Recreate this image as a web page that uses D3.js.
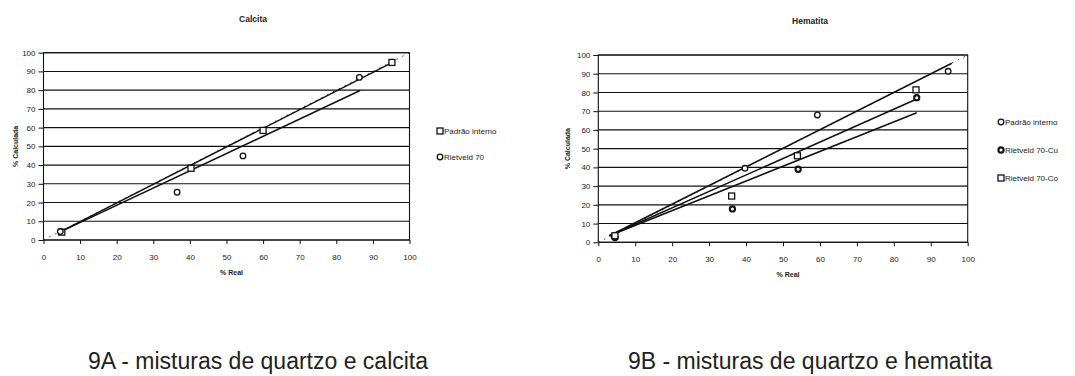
<!DOCTYPE html>
<html lang="pt">
<head>
<meta charset="UTF-8" />
<title>Calcita / Hematita</title>
<script src="https://cdn.jsdelivr.net/npm/d3@7"></script>
<style>
  body { margin: 0; background: #fff; }
  svg text { font-family: "Liberation Sans", Arial, sans-serif; fill: #222; }
</style>
</head>
<body>
<div id="app"></div>
<script>
// dados: [% real, % calculada]
const axisTicks = [0, 10, 20, 30, 40, 50, 60, 70, 80, 90, 100];

const calcitaPadrao = [[5, 4.2], [40.3, 38.3], [60, 58.5], [95.2, 94.8]];
const calcitaRietveld = [[4.6, 4.5], [36.5, 25.5], [54.5, 44.9], [86.3, 86.8]];
const calcitaLinhaPadrao = [[4, 3.8], [95.5, 95]];
const calcitaLinhaRietveld = [[4, 3.8], [86.5, 79.8]];

const hematitaPadrao = [[4.5, 3], [39.7, 39.5], [59.3, 68], [94.7, 91.3]];
const hematitaCu = [[4.5, 2.5], [36.3, 17.8], [54.1, 39], [86.2, 77.2]];
const hematitaCo = [[4.5, 3.5], [36.1, 24.7], [53.9, 46.2], [86, 81.4]];
const hematitaLinhaPadrao = [[3, 3.5], [95.7, 95.6]];
const hematitaLinhaCo = [[3, 3.5], [86.2, 76.5]];
const hematitaLinhaCu = [[3, 3.5], [86.2, 69.2]];

const diagonal = [[0, 0], [100, 100]];

const W = 1075, H = 376;
const svg = d3.select("#app").append("svg")
  .attr("width", W)
  .attr("height", H);

function marker(g, shape, cx, cy) {
  if (shape === "square") {
    g.append("rect")
      .attr("x", cx - 3).attr("y", cy - 3)
      .attr("width", 6).attr("height", 6)
      .attr("fill", "#fff").attr("stroke", "#111").attr("stroke-width", 1.3);
  } else if (shape === "bold") {
    g.append("circle")
      .attr("cx", cx).attr("cy", cy).attr("r", 2.6)
      .attr("fill", "#fff").attr("stroke", "#111").attr("stroke-width", 2.1);
  } else {
    g.append("circle")
      .attr("cx", cx).attr("cy", cy).attr("r", 2.8)
      .attr("fill", "#fff").attr("stroke", "#111").attr("stroke-width", 1.3);
  }
}

function painel(cfg) {
  const x = d3.scaleLinear().domain([0, 100]).range([cfg.left, cfg.right]);
  const y = d3.scaleLinear().domain([0, 100]).range([cfg.bottom, cfg.top]);
  const g = svg.append("g");

  // título
  g.append("text")
    .attr("x", cfg.titleX).attr("y", cfg.titleY)
    .attr("text-anchor", "middle")
    .style("font-size", "8.5px").style("font-weight", "bold")
    .text(cfg.title);

  // grade horizontal
  g.selectAll(".grid")
    .data(axisTicks)
    .enter()
    .append("line")
    .attr("x1", x(0)).attr("x2", x(100))
    .attr("y1", d => y(d)).attr("y2", d => y(d))
    .attr("stroke", "#111").attr("stroke-width", 1.1);

  g.append("rect")
    .attr("x", x(0)).attr("y", y(100))
    .attr("width", x(100) - x(0)).attr("height", y(0) - y(100))
    .attr("fill", "none").attr("stroke", "#111").attr("stroke-width", 1.1);

  // eixos
  const xAxis = g.append("g")
    .attr("transform", "translate(0," + y(0) + ")")
    .call(d3.axisBottom(x).tickValues(axisTicks).tickSize(4).tickPadding(10));
  const yAxis = g.append("g")
    .attr("transform", "translate(" + x(0) + ",0)")
    .call(d3.axisLeft(y).tickValues(axisTicks).tickSize(5).tickPadding(3));
  [xAxis, yAxis].forEach(a => {
    a.select(".domain").remove();
    a.selectAll("line").attr("stroke", "#111");
    a.selectAll("text").style("font-size", "8px").attr("fill", "#333");
  });

  g.append("text")
    .attr("x", (x(0) + x(100)) / 2 + 5).attr("y", y(0) + 35)
    .attr("text-anchor", "middle")
    .style("font-size", "7px").style("font-weight", "bold")
    .text("% Real");
  g.append("text")
    .attr("transform", "translate(" + cfg.ylabelX + "," + ((y(0) + y(100)) / 2) + ") rotate(-90)")
    .attr("text-anchor", "middle")
    .style("font-size", "7px").style("font-weight", "bold")
    .text("% Calculada");

  const line = d3.line().x(d => x(d[0])).y(d => y(d[1]));

  // y = x pontilhada
  g.append("path")
    .attr("d", line(diagonal))
    .attr("fill", "none").attr("stroke", "#333")
    .attr("stroke-width", 1).attr("stroke-dasharray", "1.5,5");

  cfg.lines.forEach(l => {
    g.append("path")
      .attr("d", line(l))
      .attr("fill", "none").attr("stroke", "#111").attr("stroke-width", 1.5);
  });

  cfg.series.forEach(s => {
    s.data.forEach(d => marker(g, s.shape, x(d[0]), y(d[1])));
  });

  // legenda
  cfg.series.forEach((s, i) => {
    const ly = cfg.legendY + i * cfg.legendStep;
    marker(g, s.shape, cfg.legendX, ly);
    g.append("text")
      .attr("x", cfg.legendX + 4).attr("y", ly + 3)
      .style("font-size", "8px")
      .text(s.name);
  });

  g.append("text")
    .attr("x", cfg.captionX).attr("y", 369)
    .style("font-size", "23px").attr("fill", "#222")
    .text(cfg.caption);
}

painel({
  title: "Calcita", titleX: 253, titleY: 22,
  left: 43.5, right: 409.5, top: 52.7, bottom: 240,
  ylabelX: 18,
  lines: [calcitaLinhaPadrao, calcitaLinhaRietveld],
  series: [
    { name: "Padrão interno", shape: "square", data: calcitaPadrao },
    { name: "Rietveld  70", shape: "circle", data: calcitaRietveld }
  ],
  legendX: 440, legendY: 131, legendStep: 26,
  captionX: 88, caption: "9A - misturas de quartzo e calcita"
});

painel({
  title: "Hematita", titleX: 810, titleY: 24,
  left: 598.3, right: 967.7, top: 55, bottom: 242.3,
  ylabelX: 570,
  lines: [hematitaLinhaPadrao, hematitaLinhaCo, hematitaLinhaCu],
  series: [
    { name: "Padrão interno", shape: "circle", data: hematitaPadrao },
    { name: "Rietveld  70-Cu", shape: "bold", data: hematitaCu },
    { name: "Rietveld  70-Co", shape: "square", data: hematitaCo }
  ],
  legendX: 1001, legendY: 122, legendStep: 28,
  captionX: 628, caption: "9B - misturas de quartzo e hematita"
});
</script>
</body>
</html>
